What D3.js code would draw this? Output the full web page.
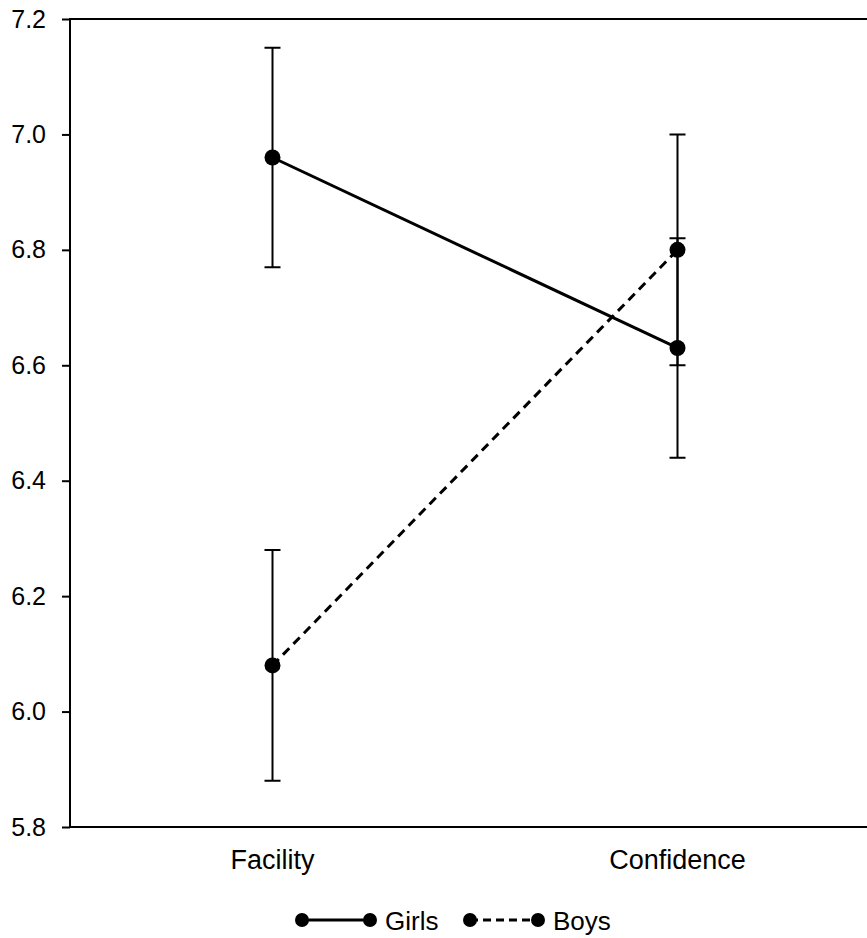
<!DOCTYPE html>
<html>
<head>
<meta charset="utf-8">
<script src="https://cdn.jsdelivr.net/npm/d3@7"></script>
<style>
  body { margin: 0; background: #fff; }
  svg { display: block; font-family: "Liberation Sans", Arial, sans-serif; }
</style>
</head>
<body>
<div id="chart"></div>
<script>
var categories = ['Facility', 'Confidence'];
var yTicks = [5.8, 6.0, 6.2, 6.4, 6.6, 6.8, 7.0, 7.2];

var girlsMean = [6.96, 6.63];
var girlsLow = [6.77, 6.44];
var girlsHigh = [7.15, 6.82];

var boysMean = [6.08, 6.80];
var boysLow = [5.88, 6.60];
var boysHigh = [6.28, 7.00];

var seriesNames = ['Girls', 'Boys'];

var width = 867, height = 938;
var plotLeft = 70, plotTop = 19, plotBottom = 827, plotRight = 880;

var svg = d3.select('#chart')
  .append('svg')
  .attr('width', width)
  .attr('height', height);

var x = d3.scaleBand().domain(categories).range([plotLeft, plotRight]).padding(0);
var y = d3.scaleLinear().domain([5.8, 7.2]).range([plotBottom, plotTop]);
var cx = function(c) { return x(c) + x.bandwidth() / 2; };

// frame
svg.append('rect')
  .attr('x', plotLeft).attr('y', plotTop)
  .attr('width', plotRight - plotLeft).attr('height', plotBottom - plotTop)
  .attr('fill', 'none')
  .attr('stroke', '#000')
  .attr('stroke-width', 2);

// y axis
var yAxis = svg.append('g')
  .attr('transform', 'translate(' + plotLeft + ',0)')
  .call(d3.axisLeft(y).tickValues(yTicks).tickFormat(d3.format('.1f')).tickSize(8).tickPadding(16));
yAxis.select('.domain').remove();
yAxis.selectAll('line').attr('stroke-width', 2);
yAxis.selectAll('text')
  .attr('font-size', 25)
  .attr('font-family', '"Liberation Sans", Arial, sans-serif')
  .attr('fill', '#000');

// x labels
svg.selectAll('.xlab')
  .data(categories)
  .enter()
  .append('text')
  .attr('class', 'xlab')
  .attr('x', function(d) { return cx(d); })
  .attr('y', 869)
  .attr('text-anchor', 'middle')
  .attr('font-size', 27)
  .text(function(d) { return d; });

function series(mean, low, high) {
  return categories.map(function(c, i) {
    return { cat: c, mean: mean[i], low: low[i], high: high[i] };
  });
}

var data = [
  { name: seriesNames[0], dash: null, pts: series(girlsMean, girlsLow, girlsHigh) },
  { name: seriesNames[1], dash: '9,6', pts: series(boysMean, boysLow, boysHigh) }
];

var line = d3.line()
  .x(function(d) { return cx(d.cat); })
  .y(function(d) { return y(d.mean); });

data.forEach(function(s) {
  var g = svg.append('g');
  // error bars
  g.selectAll('.err')
    .data(s.pts)
    .enter()
    .append('path')
    .attr('fill', 'none')
    .attr('stroke', '#000')
    .attr('stroke-width', 2)
    .attr('d', function(d) {
      var xx = cx(d.cat), cap = 8;
      return 'M' + xx + ',' + y(d.low) + 'V' + y(d.high) +
        'M' + (xx - cap) + ',' + y(d.high) + 'H' + (xx + cap) +
        'M' + (xx - cap) + ',' + y(d.low) + 'H' + (xx + cap);
    });
});

data.forEach(function(s) {
  svg.append('path')
    .datum(s.pts)
    .attr('fill', 'none')
    .attr('stroke', '#000')
    .attr('stroke-width', 3)
    .attr('stroke-dasharray', s.dash)
    .attr('d', line);
  svg.selectAll(null)
    .data(s.pts)
    .enter()
    .append('circle')
    .attr('cx', function(d) { return cx(d.cat); })
    .attr('cy', function(d) { return y(d.mean); })
    .attr('r', 8)
    .attr('fill', '#000');
});

// legend
var legendX = [302, 470];
var lg = svg.append('g');
data.forEach(function(s, i) {
  var x0 = legendX[i], x1 = x0 + 68, yy = 920;
  lg.append('line')
    .attr('x1', x0).attr('x2', x1).attr('y1', yy).attr('y2', yy)
    .attr('stroke', '#000').attr('stroke-width', 3)
    .attr('stroke-dasharray', s.dash ? '8,5' : null);
  lg.selectAll(null)
    .data([x0, x1])
    .enter()
    .append('circle')
    .attr('cx', function(d) { return d; })
    .attr('cy', yy)
    .attr('r', 7)
    .attr('fill', '#000');
  lg.append('text')
    .attr('x', x1 + 15)
    .attr('y', yy + 10)
    .attr('font-size', 26)
    .text(s.name);
});
</script>
</body>
</html>
